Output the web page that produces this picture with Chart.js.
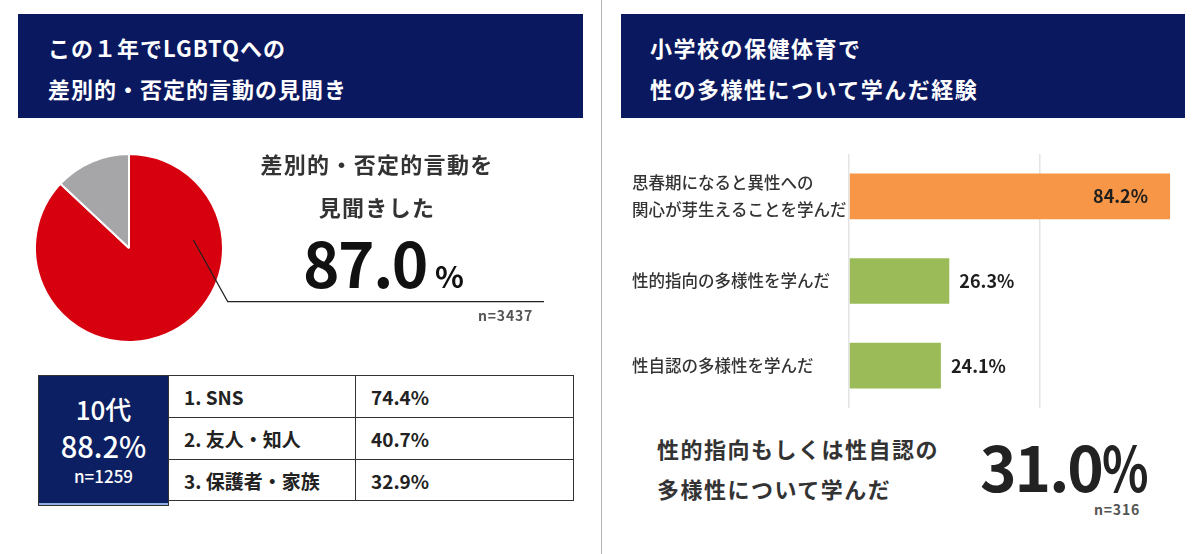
<!DOCTYPE html>
<html lang="ja">
<head>
<meta charset="utf-8">
<script src="https://cdn.jsdelivr.net/npm/chart.js@4.4.1/dist/chart.umd.min.js"></script>
<style>
  html, body { margin:0; padding:0; background:#fff; }
  body { width:1200px; height:554px; position:relative; overflow:hidden;
         font-family:"Noto Sans CJK JP","Noto Sans",sans-serif; }
  .abs { position:absolute; }
  .hdr { background:#0a1860; color:#fff; font-weight:700; font-size:22px; letter-spacing:1px; }
  .hdr div { position:absolute; left:0; white-space:nowrap; line-height:30px; }
  .dark { color:#333; font-weight:700; white-space:nowrap; }
  .n { color:#555; font-weight:700; font-size:14px; letter-spacing:0.8px; white-space:nowrap; }
  table.src { border-collapse:collapse; position:absolute; left:168px; top:375px; }
  table.src td { border:1.5px solid #333; height:41px; font-size:19px; font-weight:700; color:#222; padding:0 0 0 15px; white-space:nowrap; }
  .navy { background:#0c1f62; color:#ffffff; border:1.5px solid #333; box-sizing:border-box; text-align:center; font-weight:500; }
  .navy div { position:absolute; left:0; width:100%; white-space:nowrap; }
</style>
</head>
<body>
<div class="abs" style="left:601px;top:0;width:1px;height:554px;background:#b4b4b4;"></div>

<div class="abs hdr" style="left:18px;top:14px;width:565px;height:104px;">
  <div style="left:30px;top:18px;">この１年でLGBTQへの</div>
  <div style="left:30px;top:59px;">差別的・否定的言動の見聞き</div>
</div>
<div class="abs hdr" style="left:621px;top:14px;width:564px;height:104px;">
  <div style="left:29px;top:18px;letter-spacing:1.5px;">小学校の保健体育で</div>
  <div style="left:29px;top:59px;letter-spacing:1.5px;">性の多様性について学んだ経験</div>
</div>

<canvas id="pie" class="abs" style="left:0;top:140px;width:600px;height:214px;"></canvas>
<canvas id="bar" class="abs" style="left:620px;top:140px;width:580px;height:280px;"></canvas>

<div class="abs dark" style="left:177px;width:400px;text-align:center;top:147px;font-size:22px;letter-spacing:1.3px;line-height:32px;">差別的・否定的言動を</div>
<div class="abs dark" style="left:177px;width:400px;text-align:center;top:190px;font-size:22px;letter-spacing:1.3px;line-height:32px;">見聞きした</div>
<div class="abs" style="left:303px;top:226px;white-space:nowrap;color:#111;font-weight:700;line-height:70px;">
  <span id="pieBig" style="font-size:62px;letter-spacing:-1.5px;"></span><span style="font-size:30px;margin-left:8px;">%</span>
</div>
<div class="abs n" id="pieN" style="left:478px;top:305px;"></div>

<div class="abs navy" style="left:38px;top:375px;width:131px;height:131px;">
  <div id="teenLabel" style="top:16px;font-size:26px;line-height:34px;"></div>
  <div id="teenVal" style="top:51px;font-size:29px;line-height:36px;"></div>
  <div id="teenN" style="top:88px;font-size:17px;line-height:24px;"></div>
  <div style="bottom:0;height:2px;background:#8fb0e0;"></div>
</div>
<table class="src" id="srcTable"></table>

<div class="abs dark" style="left:657px;top:432px;font-size:22px;letter-spacing:1.5px;line-height:32px;">性的指向もしくは性自認の</div>
<div class="abs dark" style="left:657px;top:472px;font-size:22px;letter-spacing:1.5px;line-height:32px;">多様性について学んだ</div>
<div class="abs" style="left:980px;top:430px;font-size:62px;font-weight:700;color:#222;line-height:70px;white-space:nowrap;letter-spacing:-2px;">
  <span id="bigRight"></span><span style="display:inline-block;transform:scaleX(0.78);transform-origin:left center;">%</span>
</div>
<div class="abs n" id="rightN" style="left:1094px;top:499px;"></div>

<script>
// ---------- data ----------
const pieLabels = ['差別的・否定的言動を見聞きした', '見聞きしていない'];
const pieValues = [87.0, 13.0];
const pieSampleSize = 'n=3437';

const teenGroup = '10代';
const teenShare = '88.2%';
const teenSampleSize = 'n=1259';
const sourceLabels = ['1. SNS', '2. 友人・知人', '3. 保護者・家族'];
const sourceValues = [74.4, 40.7, 32.9];

const barCategories = [
  ['思春期になると異性への', '関心が芽生えることを学んだ'],
  '性的指向の多様性を学んだ',
  '性自認の多様性を学んだ'
];
const barValues = [84.2, 26.3, 24.1];
const learnedEither = 31.0;
const barSampleSize = 'n=316';
const xTickValues = [0, 50];

// ---------- text blocks ----------
document.getElementById('pieBig').textContent = pieValues[0].toFixed(1);
document.getElementById('pieN').textContent = pieSampleSize;
document.getElementById('teenLabel').textContent = teenGroup;
document.getElementById('teenVal').textContent = teenShare;
document.getElementById('teenN').textContent = teenSampleSize;
document.getElementById('bigRight').textContent = learnedEither.toFixed(1);
document.getElementById('rightN').textContent = barSampleSize;
const tbl = document.getElementById('srcTable');
sourceLabels.forEach((lab, i) => {
  const tr = document.createElement('tr');
  const a = document.createElement('td'); a.style.width = '171px'; a.textContent = lab;
  const b = document.createElement('td'); b.style.width = '202px'; b.textContent = sourceValues[i].toFixed(1) + '%';
  if (i === 2) { a.style.height = '40px'; b.style.height = '40px'; }
  tr.appendChild(a); tr.appendChild(b); tbl.appendChild(tr);
});

Chart.defaults.font.family = '"Noto Sans CJK JP","Noto Sans",sans-serif';
Chart.defaults.animation = false;

// ---------- pie ----------
const leaderLine = {
  id: 'leaderLine',
  afterDatasetsDraw(chart) {
    const arc = chart.getDatasetMeta(0).data[0];
    if (!arc) return;
    const r = arc.outerRadius;
    const ctx = chart.ctx;
    const sx = arc.x + 0.685 * r, sy = arc.y - 0.085 * r;
    const mx = arc.x + 1.05 * r, my = arc.y + 0.57 * r;
    ctx.save();
    ctx.strokeStyle = '#222';
    ctx.lineWidth = 1.2;
    ctx.beginPath();
    ctx.moveTo(sx, sy);
    ctx.lineTo(mx, my);
    ctx.lineTo(544, my);
    ctx.stroke();
    ctx.restore();
  }
};
new Chart(document.getElementById('pie'), {
  type: 'pie',
  data: {
    labels: pieLabels,
    datasets: [{
      data: pieValues,
      backgroundColor: ['#d7000f', '#a6a6a9'],
      borderColor: '#ffffff',
      borderWidth: 2
    }]
  },
  options: {
    responsive: false,
    layout: { padding: { left: 34, right: 376, top: 13, bottom: 11 } },
    plugins: { legend: { display: false }, tooltip: { enabled: false } }
  },
  plugins: [leaderLine]
});

// ---------- bar ----------
const valueLabels = {
  id: 'valueLabels',
  afterDatasetsDraw(chart) {
    const ctx = chart.ctx;
    const meta = chart.getDatasetMeta(0);
    ctx.save();
    ctx.font = 'bold 18px "Noto Sans CJK JP","Noto Sans",sans-serif';
    ctx.fillStyle = '#1e1e1e';
    ctx.textBaseline = 'middle';
    meta.data.forEach((el, i) => {
      const v = barValues[i];
      const txt = v.toFixed(1) + '%';
      if (v > 50) { ctx.textAlign = 'right'; ctx.fillText(txt, el.x - 22, el.y); }
      else { ctx.textAlign = 'left'; ctx.fillText(txt, el.x + 10, el.y); }
    });
    ctx.restore();
  }
};
new Chart(document.getElementById('bar'), {
  type: 'bar',
  data: {
    labels: barCategories,
    datasets: [{
      data: barValues,
      backgroundColor: ['#f79646', '#9bbb59', '#9bbb59'],
      borderWidth: 0,
      barPercentage: 0.54,
      categoryPercentage: 1.0
    }]
  },
  options: {
    indexAxis: 'y',
    responsive: false,
    layout: { padding: { left: 12, right: 4, top: 14, bottom: 12 } },
    scales: {
      x: {
        min: 0, max: 91,
        afterBuildTicks(scale) { scale.ticks = xTickValues.map(v => ({ value: v })); },
        afterFit(scale) { scale.height = 0; scale.paddingLeft = 0; scale.paddingRight = 0; },
        ticks: { display: false },
        grid: { color: '#e4e4e4', lineWidth: 1.5, drawTicks: false },
        border: { display: false }
      },
      y: {
        afterFit(scale) { scale.width = 217; scale.paddingTop = 0; scale.paddingBottom = 0; },
        ticks: { crossAlign: 'far', color: '#333', font: { size: 16.5, weight: '500', lineHeight: 1.65 } },
        grid: { display: false, drawTicks: false },
        border: { display: false }
      }
    },
    plugins: { legend: { display: false }, tooltip: { enabled: false } }
  },
  plugins: [valueLabels]
});
</script>
</body>
</html>
